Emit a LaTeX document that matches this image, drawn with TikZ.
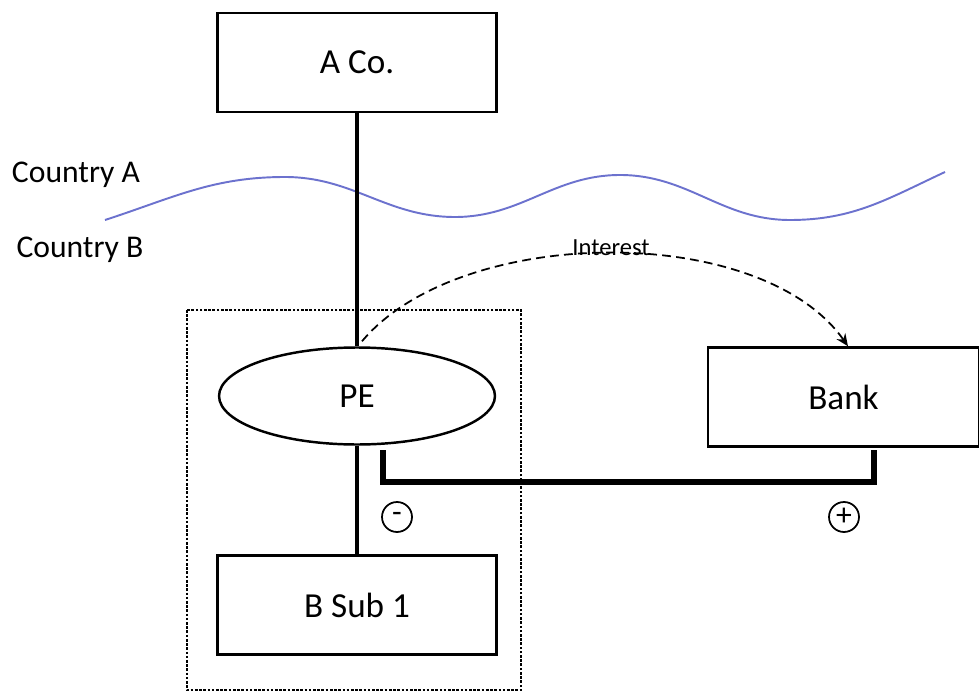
\documentclass[tikz,border=0pt]{standalone}
\usepackage{fontspec}
\setmainfont{Carlito}
\usetikzlibrary{shapes.geometric,arrows.meta}
\definecolor{wavecol}{RGB}{108,114,206}
\begin{document}
\begin{tikzpicture}[x=0.02cm, y=-0.02cm, every node/.style={draw, line width=1.4pt,
		align=center, font=\fontsize{20}{24}\selectfont},
		entity/.style={rectangle, minimum width=5.58cm, minimum height=1.98cm},
		pe/.style={ellipse, minimum width=5.52cm, minimum height=1.94cm, inner sep=0pt},
		sign/.style={circle, line width=1pt, minimum size=0.6cm, inner sep=0pt,
		font=\fontsize{18}{18}\selectfont},
		ctry/.style={draw=none, font=\fontsize{18}{22}\selectfont},
		note/.style={draw=none, font=\fontsize{14}{16}\selectfont},
		link/.style={line width=1.9pt}, bracket/.style={line width=3.2pt},
		wave/.style={wavecol, line width=1.1pt},
		flow/.style={dash pattern=on 5pt off 3pt, line width=1pt,
		-{Stealth[length=7pt,width=6pt]}},
		dotbox/.style={line width=1.4pt, dash pattern=on 1.5pt off 0.9pt} ]
	\useasboundingbox (0,0) rectangle (979,692);
	\node[entity] (aco) at (357,62.5) {A Co.};
	\node[pe] (pe) at (357,396) {PE};
	\node[entity] (bsub) at (357,605) {B Sub 1};
	\node[entity, minimum width=5.42cm] (bank) at (843.5,397) {Bank};
	\node[ctry] (ca) at (76,175) {Country A};
	\node[ctry] (cb) at (80,250) {Country B};
	\node[note] (int) at (611,248) {Interest};
	\node[sign] (minus) at (397,517) {-};
	\node[sign] (plus) at (844,517) {+};
	\draw[dotbox] (187,310) rectangle (521,690);
	\draw[wave] (105,220) to[out=18,in=180] (285,177) to[out=0,in=180] (455,217)
		to[out=0,in=180] (620,175) to[out=0,in=180] (790,220) to[out=0,in=205] (945,172);
	\draw[link] (aco) -- (pe);
	\draw[link] (pe) -- (bsub);
	\coordinate (pl) at (383,450);
	\coordinate (pr) at (874,450);
	\draw[bracket] (pl) -- ++(0,32) -| (pr);
	\draw[flow] ([xshift=0.1cm,yshift=0.1cm]pe.north) to[out=50,in=125,looseness=0.8]
		([xshift=0.09cm]bank.north);
\end{tikzpicture}
\end{document}
